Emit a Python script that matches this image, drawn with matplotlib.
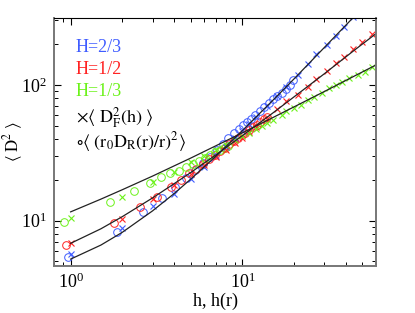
#!/usr/bin/env python3
import matplotlib
matplotlib.use('Agg')
import matplotlib.pyplot as plt

plt.rcParams['font.family'] = ['Liberation Serif', 'DejaVu Serif']
plt.rcParams['mathtext.fontset'] = 'stix'

BLUE = '#3f5cff'
RED = '#ff2222'
GREEN = '#6cf21a'

# theory curves
h_line = [1, 1.5, 2, 3, 4, 5, 7, 10, 15, 20, 30, 45, 62]
line_23 = [5.2, 6.6, 8.2, 11.8, 15.8, 20.2, 29.8, 46.1, 76.8, 111, 189, 322, 486]
line_12 = [6.8, 8.7, 10.7, 14.7, 18.7, 22.6, 30.5, 42.3, 62, 81.8, 121, 181, 247]
line_13 = [11.6, 14.4, 16.9, 21.3, 25.3, 28.9, 35.6, 44.4, 57.4, 69.0, 89.5, 116.6, 143.5]

# crosses: <D_F^2(h)>
h_cross = [1, 2, 3, 4, 5, 6, 7, 8, 9, 10, 11, 12, 14, 16, 18, 21, 24, 27, 31, 35, 39, 44, 50, 57]
cross_23 = [5.66, 8.87, 12.8, 15.8, 20.2, 24.9, 29.8, 35.0, 40.5, 46.1, 51.8, 57.9, 70.3,
            83.4, 97.1, 118.8, 143, 168, 198, 230, 269, 315, 380, 460]
cross_12 = [6.8, 10.2, 14.4, 18.3, 22.0, 25.8, 29.6, 33.4, 37.2, 41.0, 44.8, 48.6, 56.2,
            66.0, 76.2, 84.8, 97.1, 110.6, 126.2, 144.5, 161.7, 184.2, 208.5, 236.6]
h_cross_g = [1, 2, 3, 4, 5, 6, 7, 8, 9, 10, 11, 12, 13, 14, 15, 17, 18, 20, 22, 24, 26,
             29, 32, 35, 38, 42, 47, 52, 57]
cross_13 = [10.4, 15.0, 19.2, 22.7, 27, 30, 33, 36, 39, 42, 44.5, 47, 49.5, 52.5, 55.5,
            60, 64.7, 67.3, 71.2, 77.5, 82, 86.9, 94.6, 100, 105.8, 112, 118.5, 125.3, 135]

# circles: <(r0 D_R(r)/r)^2>
h_circ_b = [0.96, 1.85, 2.65, 3.4, 4.07, 4.7, 5.3, 5.9, 6.5, 7.1, 7.7, 8.3, 8.9, 9.5,
            10.1, 10.7, 11.3, 11.9, 12.6, 13.4, 14.3, 15.1, 16.0, 16.9, 17.9, 18.9, 19.6]
circ_23 = [5.4, 8.3, 11.5, 14.6, 17.8, 20.5, 23.5, 26.5, 29.5, 33, 37, 40.5, 44, 47.5,
           50.5, 53, 56.5, 60, 64.5, 69, 74, 78.5, 83, 88, 93, 100, 108]
h_circ_r = [0.94, 1.79, 2.54, 3.18, 3.84, 4.4, 4.9, 5.4, 5.9, 6.4, 6.9, 7.4, 7.9, 8.4,
            8.9, 9.4, 9.9, 10.4, 10.9, 11.5, 12.1, 12.7, 13.3, 13.9]
circ_12 = [6.6, 9.6, 12.5, 15.0, 17.8, 19.9, 22.3, 24.2, 26.2, 28.3, 30.5, 32.5, 34.5,
           36.5, 38.5, 40.5, 42.5, 44.5, 46.5, 49, 51, 53.5, 56, 58.5]
h_circ_g = [0.92, 1.70, 2.35, 2.88, 3.36, 3.81, 4.26, 4.70, 5.15, 5.6, 6.05, 6.5, 6.95,
            7.4, 7.85, 8.3]
circ_13 = [9.8, 13.6, 16.6, 18.9, 20.9, 22.3, 23.4, 25.0, 26.3, 27.6, 29, 30.4, 31.8,
           33.2, 34.5, 35.8]


def main():
    fig = plt.figure(figsize=(4.15, 3.13), dpi=100)
    ax = fig.add_axes([54 / 415, 1 - 265.7 / 313, 322 / 415, 247.7 / 313])

    for h, d, c in [(h_circ_b, circ_23, BLUE), (h_circ_r, circ_12, RED), (h_circ_g, circ_13, GREEN)]:
        ax.plot(h, d, 'o', mfc='none', mec=c, ms=5.5, mew=0.7)
    for h, d, c in [(h_cross, cross_23, BLUE), (h_cross, cross_12, RED), (h_cross_g, cross_13, GREEN)]:
        ax.plot(h, d, 'x', color=c, ms=4, mew=0.8)
    for d in [line_23, line_12, line_13]:
        ax.plot(h_line, d, '-', color='#222222', lw=0.9)

    ax.set_xscale('log')
    ax.set_yscale('log')
    ax.set_xlim(0.8, 60)
    ax.set_ylim(4.65, 312)

    ax.tick_params(which='both', direction='in', top=True, right=True, labelsize=13)
    ax.tick_params(which='major', length=5, width=0.8, pad=5)
    ax.tick_params(which='minor', length=3, width=0.7)
    for s in ['left', 'bottom', 'right']:
        ax.spines[s].set_color('#777777')
        ax.spines[s].set_linewidth(1.4)
    ax.spines['top'].set_linewidth(0.8)

    ax.set_xlabel('h, h(r)', fontsize=13)
    ax.xaxis.set_label_coords(0.5, -0.11)
    ax.set_ylabel(r'$\langle\ \mathrm{D}^2\ \rangle$', fontsize=12)
    ax.yaxis.set_label_coords(-0.09, 0.5)

    kw = dict(transform=ax.transAxes, fontsize=13, va='center', ha='left')
    ax.text(0.068, 0.880, 'H=2/3', color=BLUE, **kw)
    ax.text(0.068, 0.794, 'H=1/2', color=RED, **kw)
    ax.text(0.068, 0.705, 'H=1/3', color=GREEN, **kw)
    ax.text(0.068, 0.596, r'$\times\langle\ \mathrm{D}_\mathrm{F}^2(\mathrm{h})\ \rangle$', **kw)
    ax.text(0.068, 0.500, r'$\circ\langle\ (\mathrm{r}_0\mathrm{D}_\mathrm{R}(\mathrm{r})/\mathrm{r})^2\rangle$', **kw)

    fig.savefig('out.png', dpi=100)


if __name__ == '__main__':
    main()
